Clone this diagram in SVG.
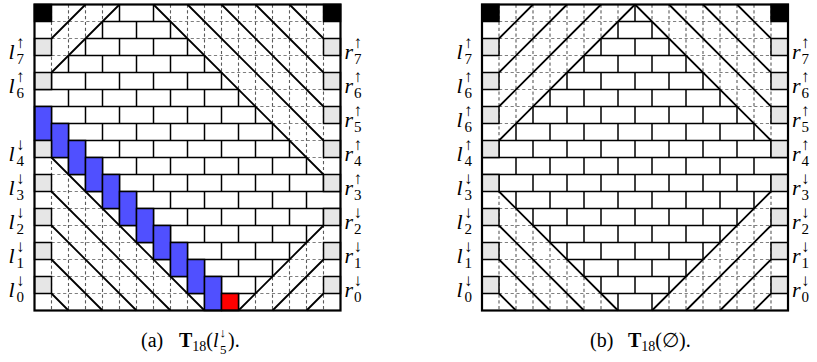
<svg xmlns="http://www.w3.org/2000/svg" width="817" height="362" viewBox="0 0 817 362">
<style>
.bg{fill:#fff;stroke:none}
.dv{stroke:#5a5a5a;stroke-width:1.1;stroke-dasharray:3.2 2.6;fill:none}
.dh{stroke:#808080;stroke-width:1.1;stroke-dasharray:3.2 2.6;fill:none}
.brk{stroke:#000;stroke-width:1.5;fill:none}
.bv{stroke:#000;stroke-width:1.5;fill:none;stroke-dasharray:17 17}
.diag{stroke:#000;stroke-width:1.8;fill:none}
.gray{fill:#e6e6e6;stroke:#000;stroke-width:1.5}
.blk{fill:#000;stroke:#000;stroke-width:1.5}
.blue{fill:#5050ff;stroke:#000;stroke-width:1.5}
.red{fill:#ff0000;stroke:#000;stroke-width:1.5}
.box{fill:none;stroke:#000;stroke-width:2.2}
text{font-family:"Liberation Serif","DejaVu Serif",serif;fill:#000}
.lab{font-size:22px;font-style:italic}
.sc{font-size:15px;font-style:normal}
.ar{font-size:17px;font-style:normal}
.cap{font-size:20px}
</style>
<defs>
  <g id="dgrid">
    <path class="dv" d="M17,0V306M34,0V306M51,0V306M68,0V306M85,0V306M102,0V306M119,0V306M136,0V306M153,0V306M170,0V306M187,0V306M204,0V306M221,0V306M238,0V306M255,0V306M272,0V306M289,0V306"/>
    <path class="dh" d="M17,17H289M17,34H289M17,51H289M17,68H289M17,85H289M17,102H289M17,119H289M17,136H289M17,153H289M17,170H289M17,187H289M17,204H289M17,221H289M17,238H289M17,255H289M17,272H289M17,289H289"/>
  </g>
  <g id="bricks">
    <path class="brk" d="M0,17H306M0,34H306M0,51H306M0,68H306M0,85H306M0,102H306M0,119H306M0,136H306M0,153H306M0,170H306M0,187H306M0,204H306M0,221H306M0,238H306M0,255H306M0,272H306M0,289H306"/>
    <path class="bv" d="M17,0V306M51,0V306M85,0V306M119,0V306M153,0V306M187,0V306M221,0V306M255,0V306M289,0V306"/>
    <path class="bv" d="M34,-17V323M68,-17V323M102,-17V323M136,-17V323M170,-17V323M204,-17V323M238,-17V323M272,-17V323"/>
  </g>
  <clipPath id="clipA"><path d="M85,0L17,68L0,68L0,153L17,153L170,306L204,306L289,221L306,221L306,170L289,170L119,0Z"/></clipPath>
  <clipPath id="clipB"><path d="M153,0L289,136L306,136L306,187L289,187L170,306L136,306L17,187L0,187L0,136L17,136Z"/></clipPath>
</defs>

<g id="panel-a" transform="translate(34.5,4.5)">
  <rect class="bg" width="306" height="306"/>
  <use href="#dgrid"/>
  <path class="bg" d="M85,0L17,68L0,68L0,153L17,153L170,306L204,306L289,221L306,221L306,170L289,170L119,0Z"/>
  <g clip-path="url(#clipA)"><use href="#bricks"/></g>
  <g id="a-connectors">
    <path class="diag" d="M17,34L51,0M17,68L85,0M119,0L289,170M153,0L289,136M187,0L289,102M221,0L289,68M255,0L289,34M17,153L170,306M17,187L136,306M17,221L102,306M17,255L68,306M17,289L34,306M204,306L289,221M238,306L289,255M272,306L289,289"/>
  </g>
  <g id="a-path">
    <rect class="blue" x="0" y="102" width="17" height="34"/>
    <rect class="blue" x="17" y="119" width="17" height="34"/>
    <rect class="blue" x="34" y="136" width="17" height="34"/>
    <rect class="blue" x="51" y="153" width="17" height="34"/>
    <rect class="blue" x="68" y="170" width="17" height="34"/>
    <rect class="blue" x="85" y="187" width="17" height="34"/>
    <rect class="blue" x="102" y="204" width="17" height="34"/>
    <rect class="blue" x="119" y="221" width="17" height="34"/>
    <rect class="blue" x="136" y="238" width="17" height="34"/>
    <rect class="blue" x="153" y="255" width="17" height="34"/>
    <rect class="blue" x="170" y="272" width="17" height="34"/>
    <rect class="red" x="187" y="289" width="17" height="17"/>
  </g>
  <g id="a-edges">
    <rect class="blk" x="0" y="0" width="17" height="17"/>
    <rect class="blk" x="289" y="0" width="17" height="17"/>
    <rect class="gray" x="0" y="34" width="17" height="17"/>
    <rect class="gray" x="0" y="68" width="17" height="17"/>
    <rect class="gray" x="0" y="136" width="17" height="17"/>
    <rect class="gray" x="0" y="170" width="17" height="17"/>
    <rect class="gray" x="0" y="204" width="17" height="17"/>
    <rect class="gray" x="0" y="238" width="17" height="17"/>
    <rect class="gray" x="0" y="272" width="17" height="17"/>
    <rect class="gray" x="289" y="34" width="17" height="17"/>
    <rect class="gray" x="289" y="68" width="17" height="17"/>
    <rect class="gray" x="289" y="102" width="17" height="17"/>
    <rect class="gray" x="289" y="136" width="17" height="17"/>
    <rect class="gray" x="289" y="170" width="17" height="17"/>
    <rect class="gray" x="289" y="204" width="17" height="17"/>
    <rect class="gray" x="289" y="238" width="17" height="17"/>
    <rect class="gray" x="289" y="272" width="17" height="17"/>
  </g>
  <rect class="box" width="306" height="306"/>
</g>

<g id="panel-b" transform="translate(482,4.5)">
  <rect class="bg" width="306" height="306"/>
  <use href="#dgrid"/>
  <path class="bg" d="M153,0L289,136L306,136L306,187L289,187L170,306L136,306L17,187L0,187L0,136L17,136Z"/>
  <g clip-path="url(#clipB)"><use href="#bricks"/></g>
  <g id="b-connectors">
    <path class="diag" d="M17,34L51,0M17,68L85,0M17,102L119,0M17,136L153,0M153,0L289,136M187,0L289,102M221,0L289,68M255,0L289,34M17,187L136,306M17,221L102,306M17,255L68,306M17,289L34,306M170,306L289,187M204,306L289,221M238,306L289,255M272,306L289,289"/>
  </g>
  <g id="b-edges">
    <rect class="blk" x="0" y="0" width="17" height="17"/>
    <rect class="blk" x="289" y="0" width="17" height="17"/>
    <rect class="gray" x="0" y="34" width="17" height="17"/>
    <rect class="gray" x="0" y="68" width="17" height="17"/>
    <rect class="gray" x="0" y="102" width="17" height="17"/>
    <rect class="gray" x="0" y="136" width="17" height="17"/>
    <rect class="gray" x="0" y="170" width="17" height="17"/>
    <rect class="gray" x="0" y="204" width="17" height="17"/>
    <rect class="gray" x="0" y="238" width="17" height="17"/>
    <rect class="gray" x="0" y="272" width="17" height="17"/>
    <rect class="gray" x="289" y="34" width="17" height="17"/>
    <rect class="gray" x="289" y="68" width="17" height="17"/>
    <rect class="gray" x="289" y="102" width="17" height="17"/>
    <rect class="gray" x="289" y="136" width="17" height="17"/>
    <rect class="gray" x="289" y="170" width="17" height="17"/>
    <rect class="gray" x="289" y="204" width="17" height="17"/>
    <rect class="gray" x="289" y="238" width="17" height="17"/>
    <rect class="gray" x="289" y="272" width="17" height="17"/>
  </g>
  <rect class="box" width="306" height="306"/>
</g>

<g id="labels-a">
  <text class="lab"><tspan x="8.5" y="58.5">l</tspan><tspan class="ar" x="16" y="48">↑</tspan><tspan class="sc" x="16.5" y="64">7</tspan></text>
  <text class="lab"><tspan x="8.5" y="92.5">l</tspan><tspan class="ar" x="16" y="82">↑</tspan><tspan class="sc" x="16.5" y="98">6</tspan></text>
  <text class="lab"><tspan x="8.5" y="160.5">l</tspan><tspan class="ar" x="16" y="150">↓</tspan><tspan class="sc" x="16.5" y="166">4</tspan></text>
  <text class="lab"><tspan x="8.5" y="194.5">l</tspan><tspan class="ar" x="16" y="184">↓</tspan><tspan class="sc" x="16.5" y="200">3</tspan></text>
  <text class="lab"><tspan x="8.5" y="228.5">l</tspan><tspan class="ar" x="16" y="218">↓</tspan><tspan class="sc" x="16.5" y="234">2</tspan></text>
  <text class="lab"><tspan x="8.5" y="262.5">l</tspan><tspan class="ar" x="16" y="252">↓</tspan><tspan class="sc" x="16.5" y="268">1</tspan></text>
  <text class="lab"><tspan x="8.5" y="296.5">l</tspan><tspan class="ar" x="16" y="286">↓</tspan><tspan class="sc" x="16.5" y="302">0</tspan></text>
  <text class="lab"><tspan x="344.5" y="58.5">r</tspan><tspan class="ar" x="353.5" y="48">↑</tspan><tspan class="sc" x="354" y="64">7</tspan></text>
  <text class="lab"><tspan x="344.5" y="92.5">r</tspan><tspan class="ar" x="353.5" y="82">↑</tspan><tspan class="sc" x="354" y="98">6</tspan></text>
  <text class="lab"><tspan x="344.5" y="126.5">r</tspan><tspan class="ar" x="353.5" y="116">↑</tspan><tspan class="sc" x="354" y="132">5</tspan></text>
  <text class="lab"><tspan x="344.5" y="160.5">r</tspan><tspan class="ar" x="353.5" y="150">↑</tspan><tspan class="sc" x="354" y="166">4</tspan></text>
  <text class="lab"><tspan x="344.5" y="194.5">r</tspan><tspan class="ar" x="353.5" y="184">↑</tspan><tspan class="sc" x="354" y="200">3</tspan></text>
  <text class="lab"><tspan x="344.5" y="228.5">r</tspan><tspan class="ar" x="353.5" y="218">↓</tspan><tspan class="sc" x="354" y="234">2</tspan></text>
  <text class="lab"><tspan x="344.5" y="262.5">r</tspan><tspan class="ar" x="353.5" y="252">↓</tspan><tspan class="sc" x="354" y="268">1</tspan></text>
  <text class="lab"><tspan x="344.5" y="296.5">r</tspan><tspan class="ar" x="353.5" y="286">↓</tspan><tspan class="sc" x="354" y="302">0</tspan></text>
</g>

<g id="labels-b">
  <text class="lab"><tspan x="456.5" y="58.5">l</tspan><tspan class="ar" x="464" y="48">↑</tspan><tspan class="sc" x="464.5" y="64">7</tspan></text>
  <text class="lab"><tspan x="456.5" y="92.5">l</tspan><tspan class="ar" x="464" y="82">↑</tspan><tspan class="sc" x="464.5" y="98">6</tspan></text>
  <text class="lab"><tspan x="456.5" y="126.5">l</tspan><tspan class="ar" x="464" y="116">↑</tspan><tspan class="sc" x="464.5" y="132">6</tspan></text>
  <text class="lab"><tspan x="456.5" y="160.5">l</tspan><tspan class="ar" x="464" y="150">↑</tspan><tspan class="sc" x="464.5" y="166">4</tspan></text>
  <text class="lab"><tspan x="456.5" y="194.5">l</tspan><tspan class="ar" x="464" y="184">↓</tspan><tspan class="sc" x="464.5" y="200">3</tspan></text>
  <text class="lab"><tspan x="456.5" y="228.5">l</tspan><tspan class="ar" x="464" y="218">↓</tspan><tspan class="sc" x="464.5" y="234">2</tspan></text>
  <text class="lab"><tspan x="456.5" y="262.5">l</tspan><tspan class="ar" x="464" y="252">↓</tspan><tspan class="sc" x="464.5" y="268">1</tspan></text>
  <text class="lab"><tspan x="456.5" y="296.5">l</tspan><tspan class="ar" x="464" y="286">↓</tspan><tspan class="sc" x="464.5" y="302">0</tspan></text>
  <text class="lab"><tspan x="792" y="58.5">r</tspan><tspan class="ar" x="801" y="48">↑</tspan><tspan class="sc" x="801.5" y="64">7</tspan></text>
  <text class="lab"><tspan x="792" y="92.5">r</tspan><tspan class="ar" x="801" y="82">↑</tspan><tspan class="sc" x="801.5" y="98">6</tspan></text>
  <text class="lab"><tspan x="792" y="126.5">r</tspan><tspan class="ar" x="801" y="116">↑</tspan><tspan class="sc" x="801.5" y="132">5</tspan></text>
  <text class="lab"><tspan x="792" y="160.5">r</tspan><tspan class="ar" x="801" y="150">↑</tspan><tspan class="sc" x="801.5" y="166">4</tspan></text>
  <text class="lab"><tspan x="792" y="194.5">r</tspan><tspan class="ar" x="801" y="184">↓</tspan><tspan class="sc" x="801.5" y="200">3</tspan></text>
  <text class="lab"><tspan x="792" y="228.5">r</tspan><tspan class="ar" x="801" y="218">↓</tspan><tspan class="sc" x="801.5" y="234">2</tspan></text>
  <text class="lab"><tspan x="792" y="262.5">r</tspan><tspan class="ar" x="801" y="252">↓</tspan><tspan class="sc" x="801.5" y="268">1</tspan></text>
  <text class="lab"><tspan x="792" y="296.5">r</tspan><tspan class="ar" x="801" y="286">↓</tspan><tspan class="sc" x="801.5" y="302">0</tspan></text>
</g>

<g id="captions">
  <text class="cap"><tspan x="141" y="347">(a)</tspan><tspan x="179" y="347" font-weight="bold">T</tspan><tspan font-size="14" y="351">18</tspan><tspan y="347">(</tspan><tspan font-style="italic">l</tspan><tspan x="219.5" y="337" font-size="13">↓</tspan><tspan x="220" y="353.5" font-size="13">5</tspan><tspan x="228" y="347">).</tspan></text>
  <text class="cap"><tspan x="590" y="347">(b)</tspan><tspan x="628" y="347" font-weight="bold">T</tspan><tspan font-size="14" y="351">18</tspan><tspan y="347">(∅).</tspan></text>
</g>
</svg>
